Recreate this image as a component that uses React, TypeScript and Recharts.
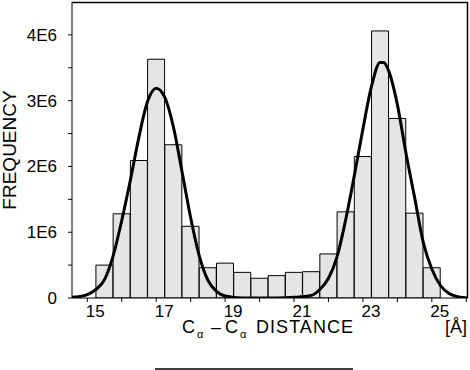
import { ComposedChart, Bar, Line, XAxis, YAxis } from 'recharts'

// histogram bins (bin centre in Å, 0.5 Å wide) and counts
const binCenters = [15.5, 16, 16.5, 17, 17.5, 18, 18.5, 19, 19.5, 20, 20.5, 21, 21.5, 22, 22.5, 23, 23.5, 24, 24.5, 25]
const binCounts = [
  0.5e6, 1.28e6, 2.09e6, 3.63e6, 2.33e6, 1.09e6, 0.46e6, 0.53e6, 0.39e6, 0.3e6,
  0.34e6, 0.39e6, 0.4e6, 0.67e6, 1.31e6, 2.15e6, 4.06e6, 2.73e6, 1.29e6, 0.46e6,
]

// fitted curve
const fitX = [
  14.56, 14.75, 15, 15.25, 15.5, 15.75, 16, 16.25, 16.5, 16.75, 17, 17.25, 17.5, 17.75, 18, 18.25, 18.5, 18.75,
  19, 19.5, 20, 20.5, 21, 21.5, 21.75, 22, 22.25, 22.5, 22.75, 23, 23.25, 23.5, 23.6, 23.75, 24, 24.25, 24.5,
  24.75, 25, 25.25, 25.5, 25.75, 26.05,
]
const fitY = [
  0.01e6, 0.02e6, 0.05e6, 0.13e6, 0.28e6, 0.64e6, 1.18e6, 1.79e6, 2.45e6, 2.99e6, 3.19e6, 3.05e6, 2.6e6, 1.92e6,
  1.22e6, 0.64e6, 0.27e6, 0.1e6, 0.03e6, 0, 0, 0, 0.01e6, 0.04e6, 0.13e6, 0.3e6, 0.63e6, 1.19e6, 1.86e6, 2.57e6,
  3.22e6, 3.58e6, 3.58e6, 3.45e6, 2.94e6, 2.2e6, 1.53e6, 0.85e6, 0.44e6, 0.19e6, 0.07e6, 0.02e6, 0,
]

const xTicks = [15, 16, 17, 18, 19, 20, 21, 22, 23, 24, 25, 26]
const xLabels = [15, 17, 19, 21, 23, 25]
const yTicks = [0, 0.5e6, 1e6, 1.5e6, 2e6, 2.5e6, 3e6, 3.5e6, 4e6]

const bars = binCenters.map((x, i) => ({ x, count: binCounts[i] }))
const fit = fitX.map((x, i) => ({ x, fit: fitY[i] }))

const font = '"Liberation Sans", Arial, sans-serif'
const xDomain = [14.556, 26.05]
const yDomain = [0, 4.5e6]

function XTick({ x, y, payload }: any) {
  if (!xLabels.includes(payload.value)) return null
  return (
    <text x={x + 8} y={y} dy="0.71em" textAnchor="middle" fontSize={17} fontFamily={font} fill="#000">
      {payload.value}
    </text>
  )
}

const yFmt = (v: number) => (v === 0 ? '0' : v % 1e6 === 0 ? `${v / 1e6}E6` : '')

export default function App() {
  return (
    <div style={{ position: 'absolute', left: 0, top: 0, width: 470, height: 370, background: '#fff' }}>
      <ComposedChart
        width={470}
        height={370}
        data={bars}
        margin={{ top: 2, right: 2, left: 0, bottom: 40 }}
        barCategoryGap={0}
        barGap={0}
      >
        <XAxis
          dataKey="x"
          type="number"
          domain={xDomain}
          allowDataOverflow
          ticks={xTicks}
          interval={0}
          height={32}
          tickSize={4}
          tickMargin={3}
          stroke="#000"
          tick={<XTick />}
        />
        {/* separate hidden x axis for the fit so the bars keep their 0.5 Å width */}
        <XAxis xAxisId="fit" dataKey="x" type="number" domain={xDomain} allowDataOverflow hide />
        <YAxis
          type="number"
          domain={yDomain}
          allowDataOverflow
          ticks={yTicks}
          interval={0}
          width={72}
          tickSize={4}
          tickMargin={11}
          tickFormatter={yFmt}
          stroke="#000"
          tick={{ fill: '#000', fontSize: 17, fontFamily: font }}
        />
        <Bar dataKey="count" fill="#e5e5e5" stroke="#000" strokeWidth={1} isAnimationActive={false} />
        <Line
          xAxisId="fit"
          data={fit}
          dataKey="fit"
          type="monotone"
          stroke="#000"
          strokeWidth={3}
          dot={false}
          isAnimationActive={false}
        />
      </ComposedChart>
      <svg
        width={470}
        height={370}
        style={{ position: 'absolute', left: 0, top: 0, pointerEvents: 'none' }}
        fontFamily={font}
      >
        {/* top / right frame of the plot box */}
        <polyline points="72,2.5 467.5,2.5 467.5,298" fill="none" stroke="#000" strokeWidth={1.5} />
        <text x={16} y={150} fontSize={19} textAnchor="middle" transform="rotate(-90 16 150)">
          FREQUENCY
        </text>
        <text y={333} fontSize={18}>
          <tspan x={182}>C</tspan>
          <tspan x={197} fontSize={11} dy={5}>α</tspan>
          <tspan x={211} dy={-5}>–</tspan>
          <tspan x={225}>C</tspan>
          <tspan x={240} fontSize={11} dy={5}>α</tspan>
          <tspan x={256} dy={-5} textLength={97} lengthAdjust="spacing">DISTANCE</tspan>
        </text>
        <text x={467} y={333} fontSize={18} textAnchor="end">
          [Å]
        </text>
        <line x1={155} y1={369} x2={353} y2={369} stroke="#000" strokeWidth={1.5} />
      </svg>
    </div>
  )
}
